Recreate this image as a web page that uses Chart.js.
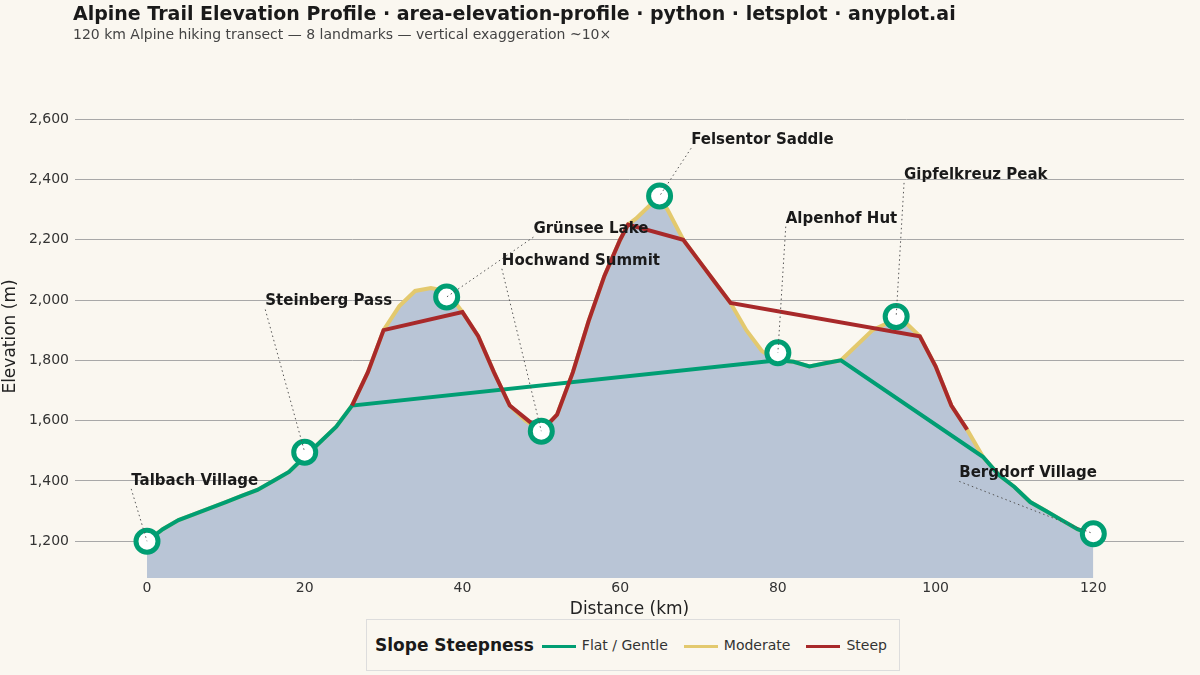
<!DOCTYPE html>
<html>
<head>
<meta charset="utf-8">
<script src="https://cdn.jsdelivr.net/npm/chart.js@4.4.0/dist/chart.umd.min.js"></script>
<style>
  body{margin:0;background:#faf7f0;font-family:"DejaVu Sans",sans-serif;}
  #wrap{position:relative;width:1200px;height:675px;}
  #title{position:absolute;left:73px;top:2px;font-size:19px;font-weight:bold;color:#1a1a1a;}
  #sub{position:absolute;left:73px;top:26px;font-size:14px;color:#444;}
  #legend{position:absolute;left:366px;top:619px;width:532px;height:50px;border:1px solid #ddd;background:#faf7f0;display:flex;align-items:center;font-size:14px;color:#333;}
  #legend b{font-size:17px;margin-left:8px;margin-right:2px;color:#1a1a1a;}
  .sw{display:inline-block;width:34px;height:3px;margin:0 6px 0 6px;vertical-align:middle;}
  .it{margin-right:10px;}
</style>
</head>
<body>
<div id="wrap">
  <canvas id="c" width="1200" height="675"></canvas>
  <div id="title">Alpine Trail Elevation Profile · area-elevation-profile · python · letsplot · anyplot.ai</div>
  <div id="sub">120 km Alpine hiking transect — 8 landmarks — vertical exaggeration ~10×</div>
  <div id="legend"><b>Slope Steepness</b>
    <span class="it"><span class="sw" style="background:#009e73"></span>Flat / Gentle</span>
    <span class="it"><span class="sw" style="background:#e3c96e"></span>Moderate</span>
    <span class="it"><span class="sw" style="background:#a8292a"></span>Steep</span>
  </div>
</div>
<script>
// profile data
const distKm=[0,2,4,6,8,10,12,14,16,18,20,22,24,26,28,30,32,34,36,38,40,42,44,46,48,50,52,54,56,58,60,61,62,64,65,66,68,70,72,74,76,78,80,82,84,86,88,90,92,94,96,98,100,102,104,106,108,110,112,114,116,118,120];
const elevM=[1200,1240,1270,1290,1310,1330,1350,1370,1400,1430,1480,1530,1580,1650,1760,1900,1980,2030,2040,2030,1960,1880,1760,1650,1600,1565,1620,1760,1930,2080,2200,2250,2270,2320,2340,2300,2200,2130,2060,1990,1900,1830,1800,1795,1780,1790,1800,1850,1900,1925,1930,1880,1780,1650,1570,1480,1420,1380,1330,1300,1270,1240,1220];
// slope class of each segment starting at distKm[i]: F flat, M moderate, S steep
const segClass='FFFFFFFFFFFFF'+'SS'+'MMMMM'+'SSS'+'MM'+'SSSSSS'+'MMMMM'+'SSS'+'MMM'+'FFFF'+'MMMMM'+'SSS'+'M'+'FFFFFFF';
// landmarks
const lmNames=['Talbach Village','Steinberg Pass','Grünsee Lake','Hochwand Summit','Felsentor Saddle','Alpenhof Hut','Gipfelkreuz Peak','Bergdorf Village'];
const lmKm=[0,20,38,50,65,80,95,120];
const lmElev=[1200,1495,2010,1565,2345,1825,1945,1225];
const lmLabelKm=[-2,15,49,45,69,81,96,103];
const lmLabelElev=[1400,1995,2235,2130,2530,2270,2415,1425];
const yTicks=[1200,1400,1600,1800,2000,2200,2400,2600];
const xTicks=[0,20,40,60,80,100,120];

const flat=[],steep=[];
for(let i=0;i<distKm.length-1;i++){
  const c=segClass[i];
  const target=c==='F'?flat:(c==='S'?steep:null);
  if(target)target.push({x:distKm[i],y:elevM[i]},{x:distKm[i+1],y:elevM[i+1]});
}
const profile=distKm.map((d,i)=>({x:d,y:elevM[i]}));

const labelPlugin={
  id:'labels',
  beforeDatasetsDraw(chart){
    const {ctx,scales:{x,y}}=chart;
    ctx.save();
    ctx.strokeStyle='#555';ctx.setLineDash([6,5]);ctx.lineWidth=1.5;
    lmKm.forEach((k,i)=>{
      if(i===0||i===lmKm.length-1)return;
      ctx.beginPath();ctx.moveTo(x.getPixelForValue(k),y.getPixelForValue(1150));
      ctx.lineTo(x.getPixelForValue(k),y.getPixelForValue(lmElev[i]));ctx.stroke();
    });
    ctx.restore();
  },
  afterDatasetsDraw(chart){
    const {ctx,scales:{x,y}}=chart;
    ctx.save();
    ctx.font='bold 15px "DejaVu Sans"';ctx.fillStyle='#1a1a1a';ctx.textBaseline='middle';
    lmNames.forEach((n,i)=>{
      const px=x.getPixelForValue(lmKm[i]),py=y.getPixelForValue(lmElev[i]);
      const lx=x.getPixelForValue(lmLabelKm[i]),ly=y.getPixelForValue(lmLabelElev[i]);
      ctx.strokeStyle='#555';ctx.setLineDash([1.5,3]);ctx.lineWidth=1;
      ctx.beginPath();ctx.moveTo(lx,ly+8);ctx.lineTo(px,py);ctx.stroke();
      ctx.fillText(n,lx,ly);
    });
    ctx.restore();
  }
};

new Chart(document.getElementById('c'),{
  type:'line',
  data:{datasets:[
    {data:profile,fill:'start',backgroundColor:'#b9c5d6',borderColor:'#e3c96e',borderWidth:4,pointRadius:0,order:5},
    {data:flat,borderColor:'#009e73',borderWidth:4,pointRadius:0,fill:false,order:3},
    {data:steep,borderColor:'#a8292a',borderWidth:4,pointRadius:0,fill:false,order:2},
    {type:'scatter',data:lmKm.map((k,i)=>({x:k,y:lmElev[i]})),pointRadius:11,pointBorderWidth:5,
     pointBorderColor:'#009e73',pointBackgroundColor:'#ffffff',order:1}
  ]},
  options:{
    responsive:false,animation:false,
    layout:{padding:{top:95,bottom:55,right:0,left:0}},
    plugins:{legend:{display:false},tooltip:{enabled:false}},
    scales:{
      x:{type:'linear',min:-9.13,max:131.5,
        afterBuildTicks:s=>{s.ticks=xTicks.map(v=>({value:v}));},
        afterFit:s=>{s.height=42;},
        grid:{display:false,tickLength:0},border:{display:false},
        ticks:{color:'#333',font:{size:14,family:'DejaVu Sans'},padding:2},
        title:{display:true,text:'Distance (km)',color:'#222',font:{size:17,family:'DejaVu Sans'},padding:0}},
      y:{min:1078,max:2680,
        afterBuildTicks:s=>{s.ticks=yTicks.map(v=>({value:v}));},
        afterFit:s=>{s.width=75;},
        grid:{color:'#a8a8a8',lineWidth:1,drawTicks:false},border:{display:false},
        ticks:{color:'#333',font:{size:14,family:'DejaVu Sans'},padding:6,callback:v=>v.toLocaleString('en-US')},
        title:{display:true,text:'Elevation (m)',color:'#222',font:{size:17,family:'DejaVu Sans'},padding:0}}
    }
  },
  plugins:[labelPlugin]
});
</script>
</body>
</html>
